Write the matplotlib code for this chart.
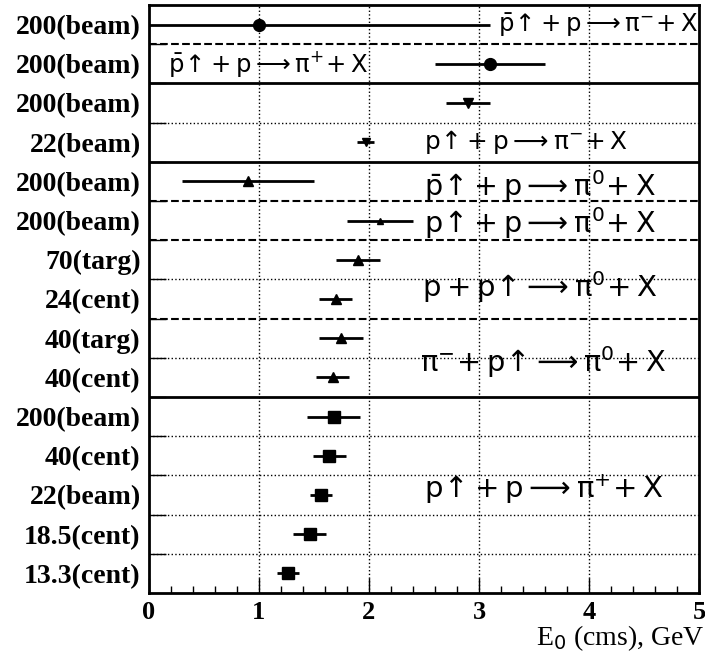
import numpy as np
from matplotlib import pyplot as plt

# rows, top to bottom
labels = ["200(beam)", "200(beam)", "200(beam)", "22(beam)", "200(beam)", "200(beam)",
          "70(targ)", "24(cent)", "40(targ)", "40(cent)", "200(beam)", "40(cent)",
          "22(beam)", "18.5(cent)", "13.3(cent)"]
e0 = [1.0, 3.1, 2.9, 1.97, 0.9, 2.1, 1.9, 1.7, 1.75, 1.67, 1.68, 1.64, 1.56, 1.46, 1.26]
e0_err = [2.1, 0.5, 0.2, 0.08, 0.6, 0.3, 0.2, 0.15, 0.2, 0.15, 0.24, 0.15, 0.1, 0.15, 0.1]
markers = ['o', 'o', 'v', 'v', '^', '^', '^', '^', '^', '^', 's', 's', 's', 's', 's']
msizes = [8.5, 8.5, 6.5, 5.5, 7.5, 5, 7, 7, 7, 7, 8, 8, 8, 8, 8]

# separator style below each row (boundary k between row k-1 and k)
separators = ['--', '-', ':', '-', '--', '--', ':', '--', ':', '-', ':', ':', ':', ':']

pi = r'\mathrm{\pi}'
reactions = [r'$\bar{\mathrm{p}}\!\uparrow\!+\mathrm{p}\longrightarrow' + pi + r'^{-}\!+\mathrm{X}$',
             r'$\bar{\mathrm{p}}\!\uparrow\!+\mathrm{p}\longrightarrow' + pi + r'^{+}\!+\mathrm{X}$',
             r'$\mathrm{p}\!\uparrow\!+\mathrm{p}\longrightarrow' + pi + r'^{-}\!+\mathrm{X}$',
             r'$\bar{\mathrm{p}}\!\uparrow\!+\mathrm{p}\longrightarrow' + pi + r'^{0}\!+\mathrm{X}$',
             r'$\mathrm{p}\!\uparrow\!+\mathrm{p}\longrightarrow' + pi + r'^{0}\!+\mathrm{X}$',
             r'$\mathrm{p}+\mathrm{p}\!\uparrow\!\longrightarrow' + pi + r'^{0}\!+\mathrm{X}$',
             pi.join([r'$', r'^{-}\!+\mathrm{p}\!\uparrow\!\longrightarrow', r'^{0}\!+\mathrm{X}$'])]
reactions.append(r'$\mathrm{p}\!\uparrow\!+\mathrm{p}\longrightarrow' + pi + r'^{+}\!+\mathrm{X}$')
reaction_x = [3.17, 0.17, 2.5, 2.5, 2.5, 2.48, 2.46, 2.5]
reaction_y = [0.5, 1.5, 3.5, 4.62, 5.55, 7.2, 9.1, 12.35]
reaction_size = [17.5, 17.5, 17.8, 20.6, 20.6, 21, 20.8, 21]

plt.rcParams['mathtext.fontset'] = 'dejavusans'

fig = plt.figure(figsize=(7.05, 6.59), dpi=100)
ax = fig.add_axes([0.2113, 0.1002, 0.7802, 0.8922])

n = len(labels)
rows = np.arange(n) + 0.5

for i in range(n):
    ax.errorbar(e0[i], rows[i], xerr=e0_err[i], fmt=markers[i], color='black',
                ms=msizes[i], elinewidth=2, capsize=0, zorder=3)

for k, ls in enumerate(separators):
    lw = 2 if ls == '-' else (1.5 if ls == '--' else 1)
    ax.axhline(k + 1, color='black', ls=ls, lw=lw, zorder=2)

for x in [1, 2, 3, 4]:
    ax.axvline(x, color='black', ls=':', lw=1, zorder=1)

for txt, x, y, fs in zip(reactions, reaction_x, reaction_y, reaction_size):
    ax.text(x, y, txt, fontsize=fs, va='center', ha='left', zorder=4)

ax.set_xlim(0, 5)
ax.set_ylim(n, 0)
ax.set_yticks(rows)
ax.set_yticklabels(labels, fontfamily='Liberation Serif', fontweight='bold', fontsize=20)
ax.set_yticks(np.arange(1, n), minor=True)
ax.tick_params(axis='y', which='major', length=0, pad=6)
ax.tick_params(axis='y', which='minor', direction='in', length=12, width=1)

ax.set_xticks(np.arange(0, 6, 1))
ax.set_xticks(np.arange(0, 5.01, 0.2), minor=True)
ax.set_xticklabels(['0', '1', '2', '3', '4', '5'], fontfamily='Liberation Serif',
                   fontweight='bold', fontsize=19)
ax.tick_params(axis='x', which='major', direction='in', length=11, width=1, pad=6)
ax.tick_params(axis='x', which='minor', direction='in', length=5, width=1)
ax.tick_params(top=False, right=False)

for s in ax.spines.values():
    s.set_linewidth(2)

ax.set_xlabel(r'E$_0$ (cms), GeV', fontfamily='Liberation Serif', fontsize=20)
ax.xaxis.set_label_coords(1.01, -0.052)
ax.xaxis.label.set_ha('right')
ax.xaxis.label.set_va('top')

plt.savefig('out.png', dpi=100)
